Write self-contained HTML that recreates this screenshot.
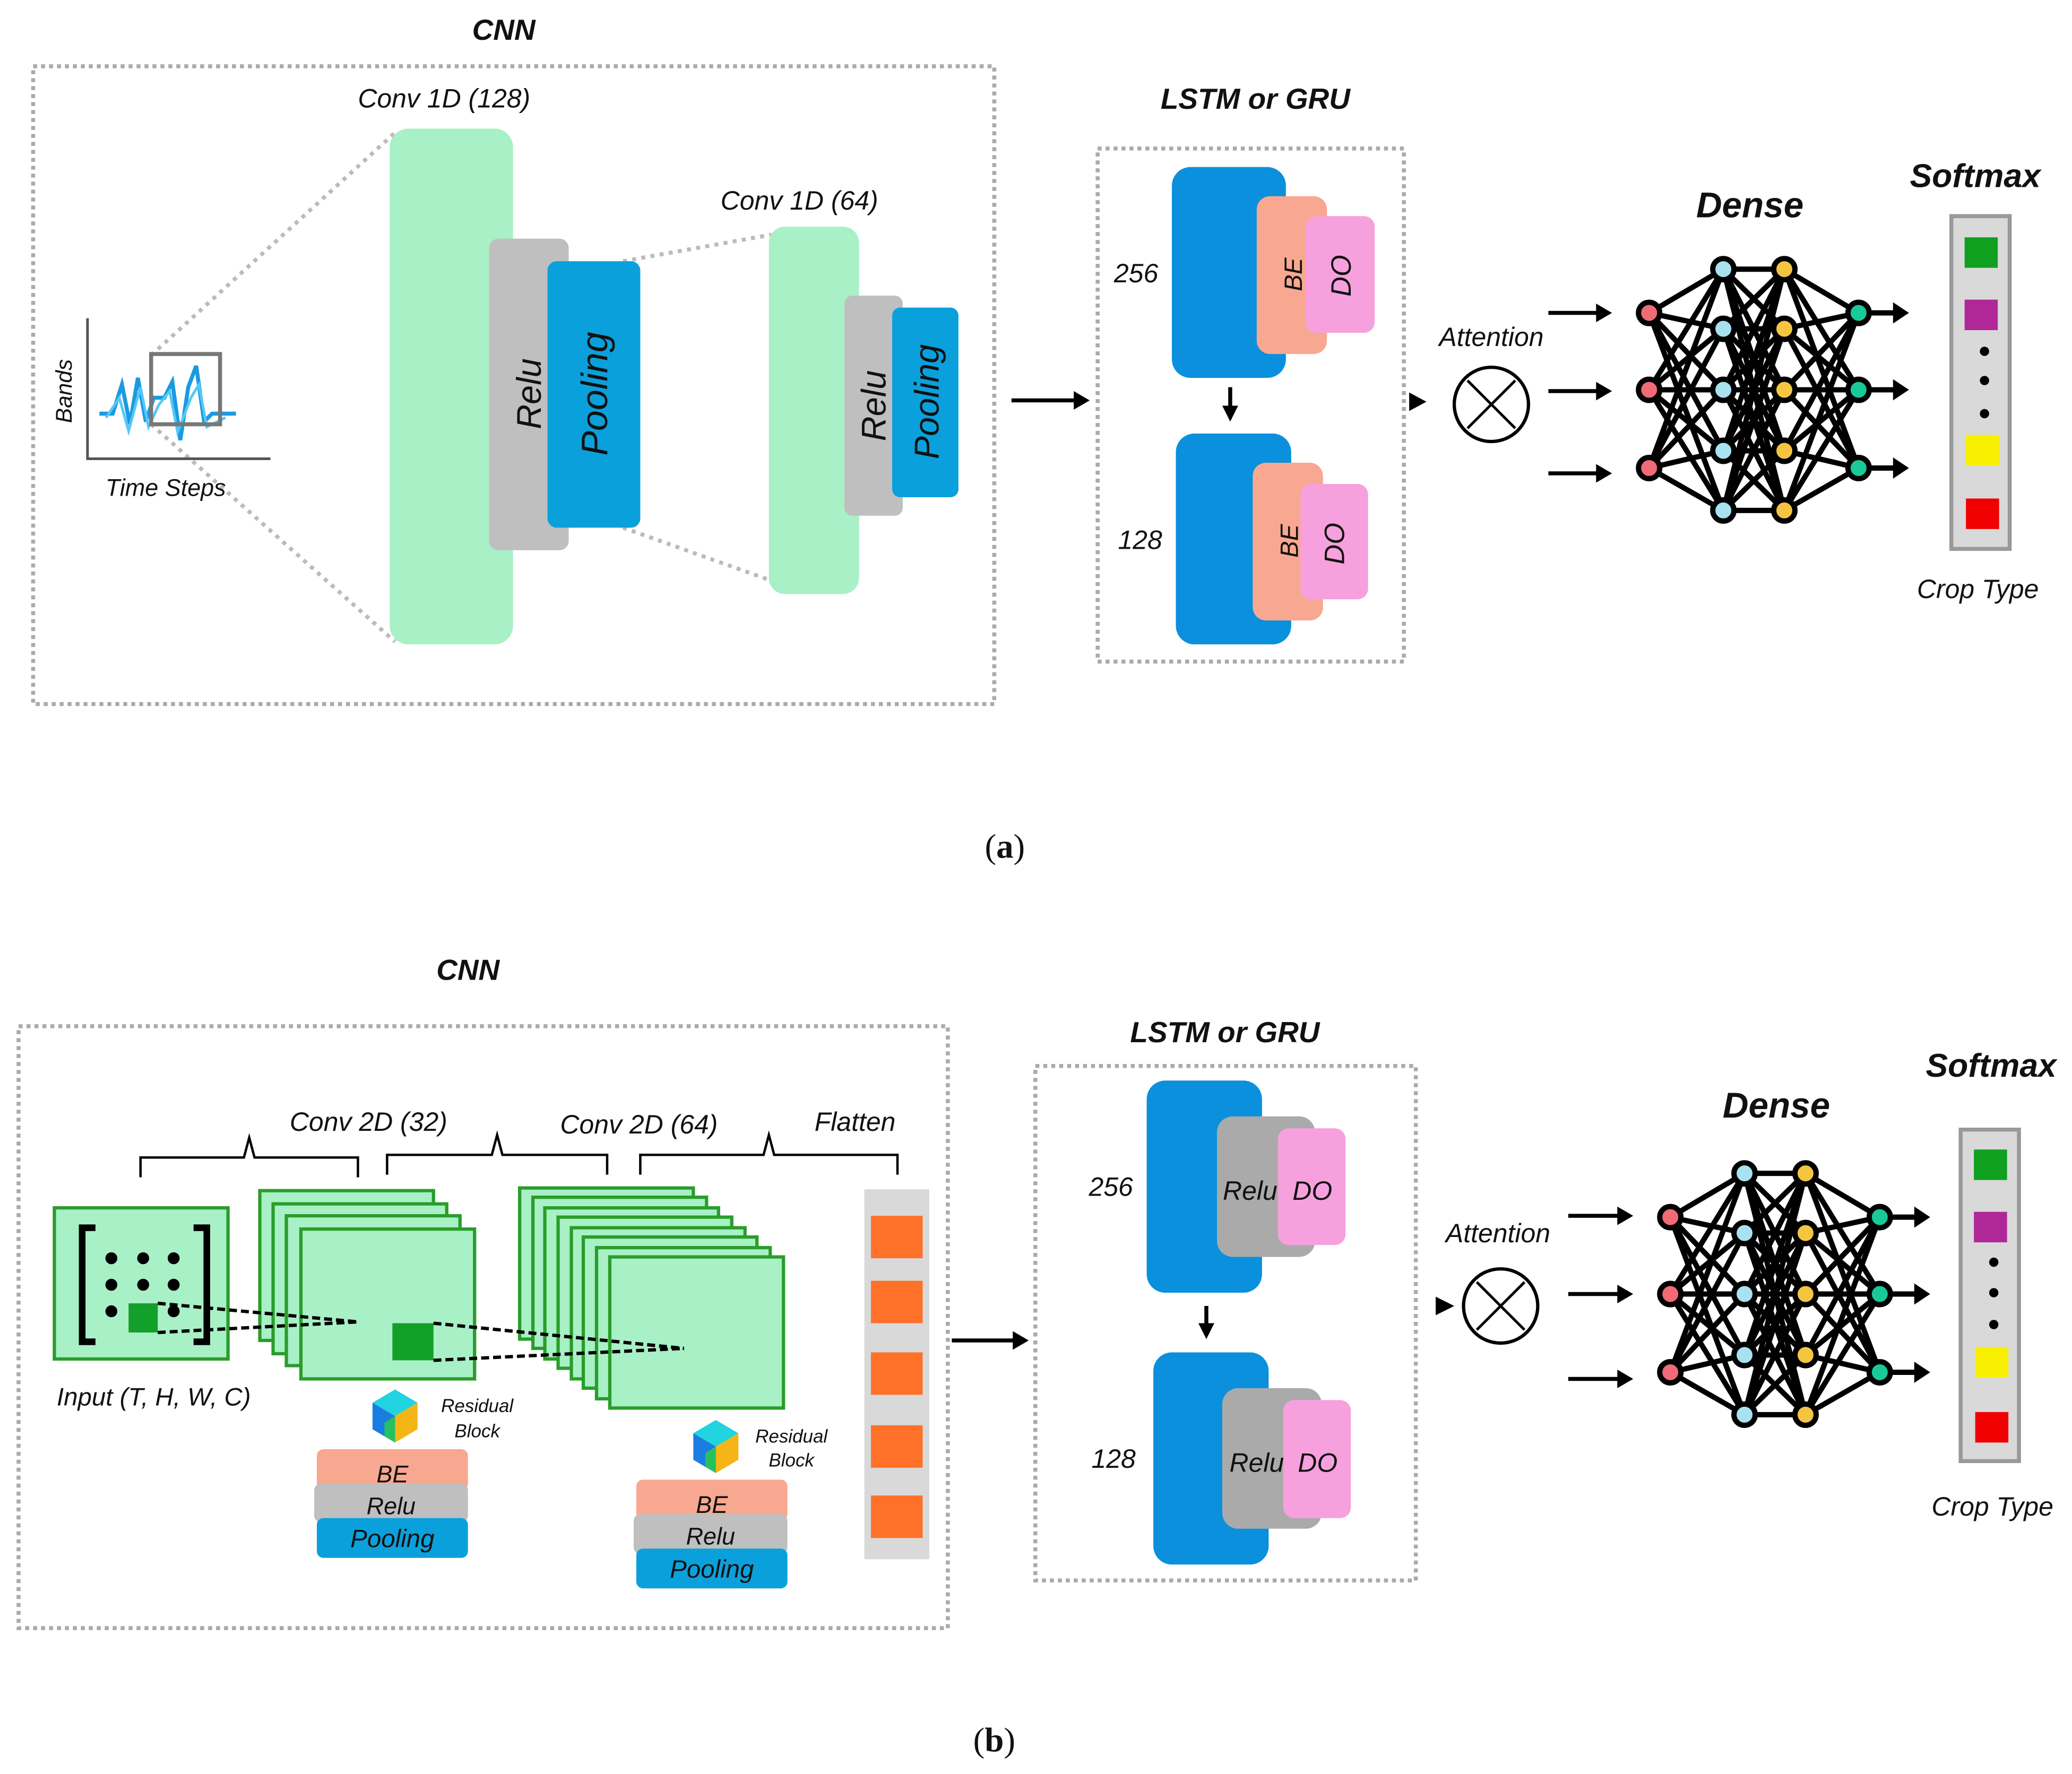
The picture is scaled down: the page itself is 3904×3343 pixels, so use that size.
<!DOCTYPE html>
<html><head><meta charset="utf-8"><style>
html,body{margin:0;padding:0;background:#fff;}
svg{display:block;}
text{font-family:"Liberation Sans",sans-serif;font-style:italic;fill:#111;}
.t{font-size:20px;}
.h{font-size:22px;font-weight:bold;}
.s{font-size:14px;}
.cap{font-family:"Liberation Serif",serif;font-style:normal;font-size:26px;}
</style></head><body>
<svg width="3904" height="3343" viewBox="0 0 1563 1338" preserveAspectRatio="none" xmlns="http://www.w3.org/2000/svg">
<defs>
<marker id="ar" markerWidth="6" markerHeight="6" refX="5" refY="3" orient="auto" markerUnits="strokeWidth"><path d="M0,0 L6,3 L0,6 z" fill="#000"/></marker>
<g id="net">
<path fill="none" stroke="#000" stroke-width="4" d="
M1244 236L1300 203M1244 236L1300 248M1244 236L1300 294M1244 236L1300 340M1244 236L1300 385
M1244 294L1300 203M1244 294L1300 248M1244 294L1300 294M1244 294L1300 340M1244 294L1300 385
M1244 353L1300 203M1244 353L1300 248M1244 353L1300 294M1244 353L1300 340M1244 353L1300 385
M1300 203L1346 203M1300 203L1346 248M1300 203L1346 294M1300 203L1346 340M1300 203L1346 385
M1300 248L1346 203M1300 248L1346 248M1300 248L1346 294M1300 248L1346 340M1300 248L1346 385
M1300 294L1346 203M1300 294L1346 248M1300 294L1346 294M1300 294L1346 340M1300 294L1346 385
M1300 340L1346 203M1300 340L1346 248M1300 340L1346 294M1300 340L1346 340M1300 340L1346 385
M1300 385L1346 203M1300 385L1346 248M1300 385L1346 294M1300 385L1346 340M1300 385L1346 385
M1346 203L1402 236M1346 203L1402 294M1346 203L1402 353
M1346 248L1402 236M1346 248L1402 294M1346 248L1402 353
M1346 294L1402 236M1346 294L1402 294M1346 294L1402 353
M1346 340L1402 236M1346 340L1402 294M1346 340L1402 353
M1346 385L1402 236M1346 385L1402 294M1346 385L1402 353
M1402 236L1430 236M1402 294L1430 294M1402 353L1430 353"/>
<path d="M1428 228L1440 236L1428 244z M1428 286L1440 294L1428 302z M1428 345L1440 353L1428 361z" fill="#000"/>
<g stroke="#000" stroke-width="4">
<circle cx="1244" cy="236" r="8" fill="#f06a78"/><circle cx="1244" cy="294" r="8" fill="#f06a78"/><circle cx="1244" cy="353" r="8" fill="#f06a78"/>
<circle cx="1300" cy="203" r="8" fill="#a8e2f0"/><circle cx="1300" cy="248" r="8" fill="#a8e2f0"/><circle cx="1300" cy="294" r="8" fill="#a8e2f0"/><circle cx="1300" cy="340" r="8" fill="#a8e2f0"/><circle cx="1300" cy="385" r="8" fill="#a8e2f0"/>
<circle cx="1346" cy="203" r="8" fill="#f5c542"/><circle cx="1346" cy="248" r="8" fill="#f5c542"/><circle cx="1346" cy="294" r="8" fill="#f5c542"/><circle cx="1346" cy="340" r="8" fill="#f5c542"/><circle cx="1346" cy="385" r="8" fill="#f5c542"/>
<circle cx="1402" cy="236" r="8" fill="#19c99a"/><circle cx="1402" cy="294" r="8" fill="#19c99a"/><circle cx="1402" cy="353" r="8" fill="#19c99a"/>
</g>
</g>
<g id="cube">
<path d="M0,-20 L17,-10 L0,0 L-17,-10z" fill="#22d3e0"/>
<path d="M-17,-10 L0,0 L0,20 L-17,10z" fill="#1a7de0"/>
<path d="M17,-10 L0,0 L0,20 L17,10z" fill="#f5b516"/>
<path d="M0,0 L0,20 L-8,15 L-8,5z" fill="#27c060"/>
</g>
</defs>

<!-- ===== (a) ===== -->
<text class="h" x="380" y="30" text-anchor="middle">CNN</text>
<rect x="25" y="50" width="725" height="481" fill="none" stroke="#aaa" stroke-width="3" stroke-dasharray="3,3"/>
<text class="t" x="335" y="81" text-anchor="middle">Conv 1D (128)</text>
<g stroke="#bbb" stroke-width="3" stroke-dasharray="3,4">
<line x1="114" y1="268" x2="298" y2="100"/><line x1="114" y1="320" x2="298" y2="484"/>
<line x1="470" y1="197" x2="582" y2="177"/><line x1="470" y1="398" x2="582" y2="438"/>
</g>
<rect x="294" y="97" width="93" height="389" rx="14" fill="#a8f0c6"/>
<rect x="369" y="180" width="60" height="235" rx="7" fill="#bfbfbf"/>
<text class="t" font-size="26" transform="translate(408,297) rotate(-90)" text-anchor="middle" style="font-size:26px">Relu</text>
<rect x="413" y="197" width="70" height="201" rx="7" fill="#0aa0dc"/>
<text transform="translate(458,297) rotate(-90)" text-anchor="middle" style="font-size:28px">Pooling</text>
<text class="t" x="603" y="158" text-anchor="middle">Conv 1D (64)</text>
<rect x="580" y="171" width="68" height="277" rx="12" fill="#a8f0c6"/>
<rect x="637" y="223" width="44" height="166" rx="6" fill="#bfbfbf"/>
<text transform="translate(668,306) rotate(-90)" text-anchor="middle" style="font-size:26px">Relu</text>
<rect x="673" y="232" width="50" height="143" rx="6" fill="#0aa0dc"/>
<text transform="translate(708,303) rotate(-90)" text-anchor="middle" style="font-size:26px">Pooling</text>
<!-- chart -->
<path d="M66 240 L66 346 L204 346" fill="none" stroke="#555" stroke-width="2"/>
<text class="s" style="font-size:17px" transform="translate(54,295) rotate(-90)" text-anchor="middle">Bands</text>
<text class="t" style="font-size:18px" x="125" y="374" text-anchor="middle">Time Steps</text>
<polyline points="75,312 85,312 92,290 98,320 104,285 110,318 116,300 124,300 130,288 136,332 142,292 148,276 154,318 160,312 178,312" fill="none" stroke="#1a9ae0" stroke-width="3"/>
<polyline points="80,315 90,300 97,325 106,292 112,322 120,305 128,295 134,326 144,300 150,290 156,322 170,315" fill="none" stroke="#55c8f5" stroke-width="2"/>
<rect x="114" y="267" width="52" height="53" fill="none" stroke="#777" stroke-width="3"/>
<line x1="763" y1="302" x2="812" y2="302" stroke="#000" stroke-width="3"/><path d="M810 295L822 302L810 309z"/>
<!-- LSTM a -->
<text class="h" x="947" y="82" text-anchor="middle">LSTM or GRU</text>
<rect x="828" y="112" width="231" height="387" fill="none" stroke="#aaa" stroke-width="3" stroke-dasharray="3,3"/>
<rect x="884" y="126" width="86" height="159" rx="14" fill="#0a90dc"/>
<rect x="948" y="148" width="53" height="119" rx="10" fill="#f8a890"/>
<rect x="985" y="163" width="52" height="88" rx="8" fill="#f7a0de"/>
<text class="t" x="857" y="213" text-anchor="middle">256</text>
<text transform="translate(982,207) rotate(-90)" text-anchor="middle" style="font-size:19px">BE</text>
<text transform="translate(1019,208) rotate(-90)" text-anchor="middle" style="font-size:21px">DO</text>
<line x1="928" y1="292" x2="928" y2="308" stroke="#000" stroke-width="3"/><path d="M922 306L928 318L934 306z"/>
<rect x="887" y="327" width="87" height="159" rx="14" fill="#0a90dc"/>
<rect x="945" y="349" width="53" height="119" rx="10" fill="#f8a890"/>
<rect x="981" y="365" width="51" height="87" rx="8" fill="#f7a0de"/>
<text class="t" x="860" y="414" text-anchor="middle">128</text>
<text transform="translate(979,408) rotate(-90)" text-anchor="middle" style="font-size:19px">BE</text>
<text transform="translate(1014,410) rotate(-90)" text-anchor="middle" style="font-size:21px">DO</text>
<path d="M1063 296L1076 303L1063 310z"/>
<text class="t" x="1125" y="261" text-anchor="middle">Attention</text>
<circle cx="1125" cy="305" r="28" fill="none" stroke="#000" stroke-width="2.5"/>
<path d="M1107 287L1143 323M1143 287L1107 323" stroke="#000" stroke-width="2"/>
<g stroke="#000" stroke-width="3"><line x1="1168" y1="236" x2="1206" y2="236"/><line x1="1168" y1="295" x2="1206" y2="295"/><line x1="1168" y1="357" x2="1206" y2="357"/></g>
<path d="M1204 229L1216 236L1204 243z M1204 288L1216 295L1204 302z M1204 350L1216 357L1204 364z"/>
<use href="#net"/>
<text class="h" style="font-size:27px" x="1320" y="164" text-anchor="middle">Dense</text>
<text class="h" style="font-size:25px" x="1490" y="141" text-anchor="middle">Softmax</text>
<rect x="1472" y="163" width="44" height="251" fill="#d9d9d9" stroke="#999" stroke-width="3"/>
<rect x="1482" y="179" width="25" height="23" fill="#10a020"/>
<rect x="1482" y="226" width="25" height="23" fill="#b02898"/>
<circle cx="1497" cy="265" r="3.5"/><circle cx="1497" cy="287" r="3.5"/><circle cx="1497" cy="312" r="3.5"/>
<rect x="1483" y="328" width="25" height="23" fill="#f8f000"/>
<rect x="1483" y="376" width="25" height="23" fill="#f00000"/>
<text class="t" x="1492" y="451" text-anchor="middle">Crop Type</text>
<text class="cap" x="758" y="647" text-anchor="middle">(<tspan font-weight="bold">a</tspan>)</text>

<!-- ===== (b) ===== -->
<text class="h" x="353" y="739" text-anchor="middle">CNN</text>
<rect x="14" y="774" width="701" height="454" fill="none" stroke="#aaa" stroke-width="3" stroke-dasharray="3,3"/>
<text class="t" x="278" y="853" text-anchor="middle">Conv 2D (32)</text>
<text class="t" x="482" y="855" text-anchor="middle">Conv 2D (64)</text>
<text class="t" x="645" y="853" text-anchor="middle">Flatten</text>
<g fill="none" stroke="#000" stroke-width="1.8">
<path d="M106 888 V873 H184 L188 858 L192 873 H270 V888"/>
<path d="M292 886 V871 H371 L375 856 L379 871 H458 V886"/>
<path d="M483 886 V871 H576 L580 856 L584 871 H677 V886"/>
</g>
<rect x="41" y="911" width="131" height="114" fill="#a8f0c6" stroke="#2a9d2a" stroke-width="2.5"/>
<path d="M72 926 H62 V1012 H72 M146 926 H156 V1012 H146" fill="none" stroke="#000" stroke-width="5"/>
<g><circle cx="84" cy="949" r="4.5"/><circle cx="108" cy="949" r="4.5"/><circle cx="131" cy="949" r="4.5"/>
<circle cx="84" cy="969" r="4.5"/><circle cx="108" cy="969" r="4.5"/><circle cx="131" cy="969" r="4.5"/>
<circle cx="84" cy="989" r="4.5"/><circle cx="131" cy="989" r="4.5"/></g>
<g fill="#a8f0c6" stroke="#2a9d2a" stroke-width="2.5">
<rect x="196" y="898" width="131" height="113"/><rect x="206" y="908" width="131" height="113"/><rect x="216" y="917" width="131" height="113"/><rect x="227" y="927" width="131" height="113"/>
</g>
<rect x="97" y="983" width="22" height="22" fill="#12a02a"/>
<path d="M119 983 L270 997 M119 1005 L270 997" stroke="#000" stroke-width="2.5" stroke-dasharray="6,3"/>
<g fill="#a8f0c6" stroke="#2a9d2a" stroke-width="2.5">
<rect x="392" y="896" width="131" height="114"/><rect x="402" y="903" width="131" height="114"/><rect x="411" y="911" width="131" height="114"/><rect x="421" y="918" width="131" height="114"/><rect x="431" y="926" width="131" height="114"/><rect x="440" y="933" width="131" height="114"/><rect x="450" y="941" width="131" height="114"/><rect x="460" y="948" width="131" height="114"/>
</g>
<rect x="296" y="998" width="31" height="28" fill="#12a02a"/>
<path d="M327 998 L516 1017 M327 1026 L516 1017" stroke="#000" stroke-width="2.5" stroke-dasharray="6,3"/>
<text class="t" style="font-size:19px" x="116" y="1060" text-anchor="middle">Input (T, H, W, C)</text>
<use href="#cube" x="298" y="1068"/>
<text class="s" x="360" y="1065" text-anchor="middle">Residual</text><text class="s" x="360" y="1084" text-anchor="middle">Block</text>
<rect x="239" y="1093" width="114" height="31" rx="5" fill="#f8a890"/>
<rect x="237" y="1119" width="116" height="29" rx="5" fill="#bfbfbf"/>
<rect x="239" y="1145" width="114" height="30" rx="5" fill="#0aa0dc"/>
<text class="t" style="font-size:18px" x="296" y="1118" text-anchor="middle">BE</text>
<text class="t" style="font-size:18px" x="295" y="1142" text-anchor="middle">Relu</text>
<text class="t" style="font-size:19px" x="296" y="1167" text-anchor="middle">Pooling</text>
<use href="#cube" x="540" y="1091"/>
<text class="s" x="597" y="1088" text-anchor="middle">Residual</text><text class="s" x="597" y="1106" text-anchor="middle">Block</text>
<rect x="480" y="1116" width="114" height="31" rx="5" fill="#f8a890"/>
<rect x="478" y="1142" width="116" height="30" rx="5" fill="#bfbfbf"/>
<rect x="480" y="1168" width="114" height="30" rx="5" fill="#0aa0dc"/>
<text class="t" style="font-size:18px" x="537" y="1141" text-anchor="middle">BE</text>
<text class="t" style="font-size:18px" x="536" y="1165" text-anchor="middle">Relu</text>
<text class="t" style="font-size:19px" x="537" y="1190" text-anchor="middle">Pooling</text>
<rect x="652" y="897" width="49" height="279" fill="#d9d9d9"/>
<g fill="#ff7028"><rect x="657" y="917" width="39" height="32"/><rect x="657" y="966" width="39" height="32"/><rect x="657" y="1020" width="39" height="32"/><rect x="657" y="1075" width="39" height="32"/><rect x="657" y="1128" width="39" height="32"/></g>
<line x1="718" y1="1011" x2="766" y2="1011" stroke="#000" stroke-width="3"/><path d="M764 1004L776 1011L764 1018z"/>
<!-- LSTM b -->
<text class="h" x="924" y="786" text-anchor="middle">LSTM or GRU</text>
<rect x="781" y="804" width="287" height="388" fill="none" stroke="#aaa" stroke-width="3" stroke-dasharray="3,3"/>
<rect x="865" y="815" width="87" height="160" rx="14" fill="#0a90dc"/>
<rect x="918" y="842" width="74" height="106" rx="12" fill="#aaaaaa"/>
<rect x="964" y="851" width="51" height="88" rx="8" fill="#f7a0de"/>
<text class="t" x="838" y="902" text-anchor="middle">256</text>
<text class="t" x="943" y="905" text-anchor="middle">Relu</text><text class="t" x="990" y="905" text-anchor="middle">DO</text>
<line x1="910" y1="985" x2="910" y2="1000" stroke="#000" stroke-width="3"/><path d="M904 998L910 1010L916 998z"/>
<rect x="870" y="1020" width="87" height="160" rx="14" fill="#0a90dc"/>
<rect x="922" y="1047" width="75" height="106" rx="12" fill="#aaaaaa"/>
<rect x="968" y="1056" width="51" height="89" rx="8" fill="#f7a0de"/>
<text class="t" x="840" y="1107" text-anchor="middle">128</text>
<text class="t" x="948" y="1110" text-anchor="middle">Relu</text><text class="t" x="994" y="1110" text-anchor="middle">DO</text>
<path d="M1083 978L1097 985L1083 992z"/>
<text class="t" x="1130" y="937" text-anchor="middle">Attention</text>
<circle cx="1132" cy="985" r="28" fill="none" stroke="#000" stroke-width="2.5"/>
<path d="M1114 967L1150 1003M1150 967L1114 1003" stroke="#000" stroke-width="2"/>
<g stroke="#000" stroke-width="3"><line x1="1183" y1="917" x2="1222" y2="917"/><line x1="1183" y1="976" x2="1222" y2="976"/><line x1="1183" y1="1040" x2="1222" y2="1040"/></g>
<path d="M1220 910L1232 917L1220 924z M1220 969L1232 976L1220 983z M1220 1033L1232 1040L1220 1047z"/>
<use href="#net" x="16" y="682"/>
<text class="h" style="font-size:27px" x="1340" y="843" text-anchor="middle">Dense</text>
<text class="h" style="font-size:25px" x="1502" y="812" text-anchor="middle">Softmax</text>
<rect x="1479" y="852" width="44" height="250" fill="#d9d9d9" stroke="#999" stroke-width="3"/>
<rect x="1489" y="867" width="25" height="23" fill="#10a020"/>
<rect x="1489" y="914" width="25" height="23" fill="#b02898"/>
<circle cx="1504" cy="952" r="3.5"/><circle cx="1504" cy="975" r="3.5"/><circle cx="1504" cy="999" r="3.5"/>
<rect x="1490" y="1016" width="25" height="23" fill="#f8f000"/>
<rect x="1490" y="1065" width="25" height="23" fill="#f00000"/>
<text class="t" x="1503" y="1143" text-anchor="middle">Crop Type</text>
<text class="cap" x="750" y="1321" text-anchor="middle">(<tspan font-weight="bold">b</tspan>)</text>
</svg>
</body></html>
